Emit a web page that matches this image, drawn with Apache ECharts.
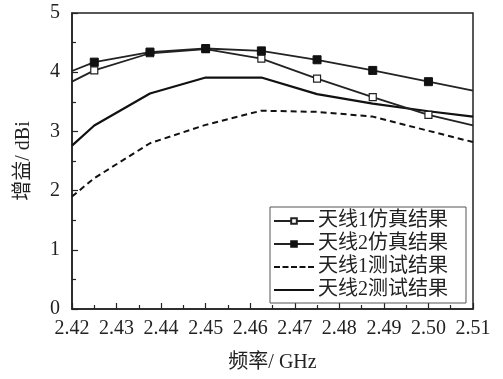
<!DOCTYPE html>
<html><head><meta charset="utf-8">
<script src="https://cdn.jsdelivr.net/npm/echarts@6/dist/echarts.min.js"></script>
<style>html,body{margin:0;padding:0;background:#fff}#c{width:503px;height:379px}</style>
</head><body><div id="c"></div>
<script>
var freqs = [2.42, 2.425, 2.4375, 2.45, 2.4625, 2.475, 2.4875, 2.5, 2.51];
var sim1  = [3.84, 4.03, 4.32, 4.39, 4.23, 3.89, 3.58, 3.28, 3.10];
var sim2  = [4.02, 4.17, 4.34, 4.40, 4.36, 4.21, 4.03, 3.84, 3.69];
var meas1 = [1.90, 2.21, 2.80, 3.11, 3.35, 3.33, 3.25, 3.01, 2.82];
var meas2 = [2.76, 3.10, 3.64, 3.91, 3.91, 3.63, 3.47, 3.34, 3.25];
var names = ['天线1仿真结果', '天线2仿真结果', '天线1测试结果', '天线2测试结果'];
var xTicks = ['2.42','2.43','2.44','2.45','2.46','2.47','2.48','2.49','2.50','2.51'];

var FONT = '"Liberation Serif", "Noto Sans CJK SC", serif';
function pts(ys, markEnds) {
  return freqs.map(function (f, i) {
    var d = { value: [f, ys[i]] };
    if (markEnds && (i === 0 || i === freqs.length - 1)) d.symbol = 'none';
    return d;
  });
}
var dashIcon = 'path://M0,0h6v2h-6zM8.5,0h6v2h-6zM17,0h6v2h-6zM25.5,0h6v2h-6zM34,0h6v2h-6z';
var solidIcon = 'path://M0,0h40v2h-40z';
var chart = echarts.init(document.getElementById('c'), null, { renderer: 'canvas' });
chart.setOption({
  animation: false,
  backgroundColor: '#fff',
  grid: { left: 72, right: 30, top: 13, bottom: 70, show: true, borderColor: '#222', borderWidth: 1.5, backgroundColor: 'transparent' },
  xAxis: {
    type: 'value', min: 2.42, max: 2.51, interval: 0.01,
    name: '频率/ GHz', nameLocation: 'middle', nameGap: 44,
    nameTextStyle: { fontFamily: FONT, fontSize: 20, color: '#222' },
    axisLine: { lineStyle: { color: '#222', width: 1.5 } },
    axisTick: { inside: true, length: 6, lineStyle: { color: '#222', width: 1.2 } },
    minorTick: { show: true, splitNumber: 2, length: 4, lineStyle: { color: '#222', width: 1.2 } },
    splitLine: { show: false },
    axisLabel: { fontFamily: FONT, fontSize: 20, color: '#222', margin: 10,
      formatter: function (v) { var s = v.toFixed(2); return xTicks.indexOf(s) >= 0 ? s : ''; } }
  },
  yAxis: {
    type: 'value', min: 0, max: 5, interval: 1,
    name: '增益/ dBi', nameLocation: 'middle', nameGap: 38,
    nameTextStyle: { fontFamily: FONT, fontSize: 20, color: '#222' },
    axisLine: { show: true, lineStyle: { color: '#222', width: 1.5 } },
    axisTick: { show: true, inside: true, length: 6, lineStyle: { color: '#222', width: 1.2 } },
    minorTick: { show: true, splitNumber: 2, length: 4, lineStyle: { color: '#222', width: 1.2 } },
    splitLine: { show: false },
    axisLabel: { fontFamily: FONT, fontSize: 20, color: '#222', margin: 12 }
  },
  legend: {
    orient: 'vertical', left: 270, top: 207,
    borderColor: '#555', borderWidth: 1, padding: [4, 18, 3, 3], backgroundColor: '#fff',
    itemWidth: 40, itemHeight: 7, itemGap: 3,
    textStyle: { fontFamily: FONT, fontSize: 20, lineHeight: 20, color: '#222', padding: [0, 0, 0, -1] },
    data: [
      { name: names[0] },
      { name: names[1] },
      { name: names[2], icon: dashIcon, itemStyle: { color: '#111', borderWidth: 0 } },
      { name: names[3], icon: solidIcon, itemStyle: { color: '#111', borderWidth: 0 } }
    ]
  },
  series: [
    { name: names[0], type: 'line', data: pts(sim1, true), symbol: 'rect', symbolSize: 7,
      itemStyle: { color: '#fff', borderColor: '#222', borderWidth: 1.2 },
      lineStyle: { color: '#222', width: 1.8 }, z: 4 },
    { name: names[1], type: 'line', data: pts(sim2, true), symbol: 'rect', symbolSize: 8,
      itemStyle: { color: '#111', borderColor: '#111', borderWidth: 1 },
      lineStyle: { color: '#222', width: 1.8 }, z: 4 },
    { name: names[2], type: 'line', data: pts(meas1, false), symbol: 'none',
      itemStyle: { color: '#111' },
      lineStyle: { color: '#111', width: 2, type: [6, 4] } },
    { name: names[3], type: 'line', data: pts(meas2, false), symbol: 'none',
      itemStyle: { color: '#111' },
      lineStyle: { color: '#111', width: 2.2 } }
  ]
});
</script></body></html>
